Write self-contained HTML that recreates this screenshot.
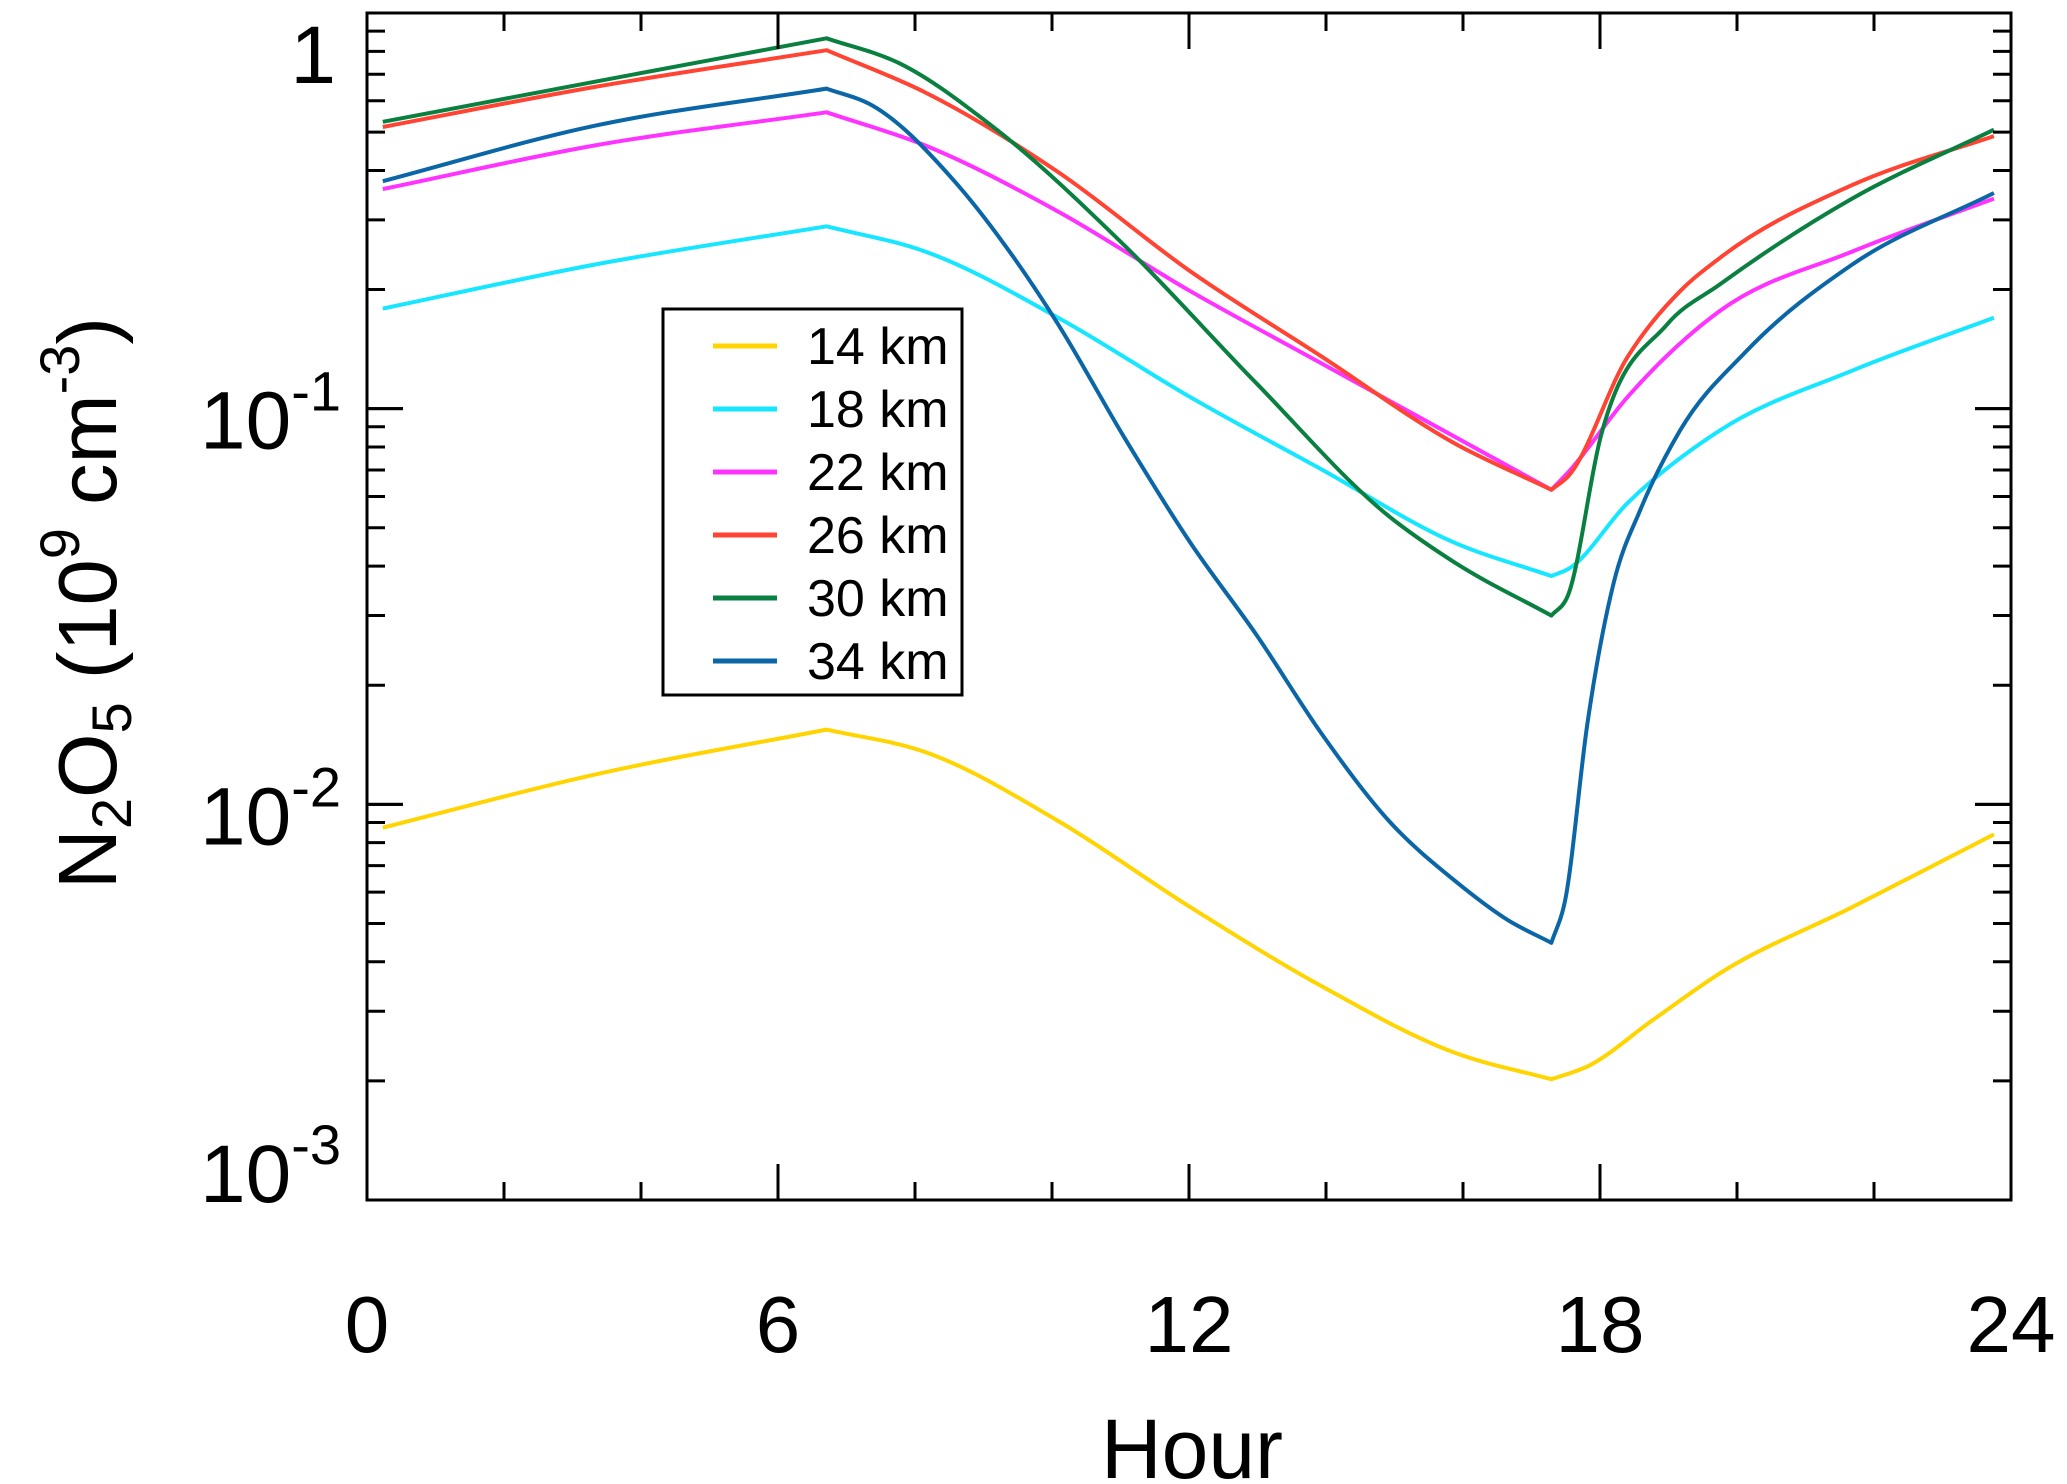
<!DOCTYPE html>
<html><head><meta charset="utf-8"><style>
html,body{margin:0;padding:0;background:#fff;}
svg{display:block;font-family:"Liberation Sans",sans-serif;}
</style></head><body>
<svg id="chart" width="2067" height="1484" viewBox="0 0 2067 1484" xmlns="http://www.w3.org/2000/svg">
<g id="plot"></g>
<g id="axes"></g>
<g id="legend"></g>
</svg>
<script>
const seriesNames = ["14 km","18 km","22 km","26 km","30 km","34 km"];
const seriesColors = ["#ffd400","#16e6ff","#ff33ff","#ff4433","#0a8040","#0a66a6"];
const xTickLabels = ["0","6","12","18","24"];
const yTickExps = [0,-1,-2,-3];
// hours and log10(N2O5) per series
const hYellow = [0.23,3.32,6.71,8.15,10.09,12.02,13.95,15.88,17.29,17.82,18.78,19.75,21.68,23.75];
const vYellow = [-2.059,-1.925,-1.811,-1.868,-2.042,-2.260,-2.461,-2.628,-2.695,-2.662,-2.544,-2.427,-2.260,-2.076];
const hCyan = [0.23,3.32,6.71,8.15,10.09,12.02,13.95,15.88,17.29,17.53,18.4,19.75,21.68,23.75];
const vCyan = [-0.747,-0.636,-0.539,-0.603,-0.770,-0.971,-1.155,-1.339,-1.423,-1.406,-1.239,-1.055,-0.904,-0.770];
const hMagenta = [0.23,3.32,6.71,8.15,10.09,12.02,13.95,15.88,17.29,17.53,18.4,19.75,21.68,23.75];
const vMagenta = [-0.445,-0.335,-0.251,-0.335,-0.502,-0.703,-0.887,-1.071,-1.205,-1.162,-0.971,-0.753,-0.603,-0.469];
const hRed = [0.23,3.32,6.71,8.15,10.09,12.02,13.95,15.88,17.29,17.53,18.4,19.17,19.75,21.68,23.75];
const vRed = [-0.288,-0.187,-0.094,-0.201,-0.402,-0.653,-0.870,-1.088,-1.205,-1.172,-0.870,-0.703,-0.619,-0.435,-0.311];
const hGreen = [0.23,3.32,6.71,7.77,9.12,11.05,12.99,14.92,15.88,17.29,17.53,18.01,18.98,19.75,21.68,23.75];
const vGreen = [-0.275,-0.174,-0.064,-0.127,-0.285,-0.586,-0.937,-1.272,-1.389,-1.523,-1.473,-1.071,-0.787,-0.686,-0.469,-0.295];
const hBlue = [0.23,3.32,6.71,7.38,8.54,9.31,10.09,11.05,12.02,12.99,13.95,14.92,15.88,16.66,17.29,17.49,17.82,18.2,18.59,19.17,20.14,21.68,23.75];
const vBlue = [-0.425,-0.285,-0.191,-0.234,-0.418,-0.586,-0.787,-1.071,-1.339,-1.573,-1.825,-2.042,-2.193,-2.293,-2.350,-2.243,-1.791,-1.440,-1.255,-1.055,-0.854,-0.636,-0.455];

const seriesH=[hYellow,hCyan,hMagenta,hRed,hGreen,hBlue];
const seriesV=[vYellow,vCyan,vMagenta,vRed,vGreen,vBlue];
const NS="http://www.w3.org/2000/svg";
const L=367,R=2011,T=13,B=1200;
function xS(h){return L+(h/24)*(R-L);}
function yS(e){return T+(0-e)/3*(B-T);}
function mk(tag,attrs,parent){const el=document.createElementNS(NS,tag);for(const k in attrs)el.setAttribute(k,attrs[k]);parent.appendChild(el);return el;}
function hermitePath(P){
  const n=P.length,sec=[];
  for(let i=0;i<n-1;i++)sec.push((P[i+1][1]-P[i][1])/(P[i+1][0]-P[i][0]));
  const mL=[],mR=[];
  for(let i=0;i<n;i++){
    if(i===0){mL[i]=mR[i]=sec[0];continue;}
    if(i===n-1){mL[i]=mR[i]=sec[n-2];continue;}
    const a=sec[i-1],b=sec[i];
    if(a*b<0){mL[i]=a;mR[i]=b;} // sharp extremum
    else{const dl=P[i][0]-P[i-1][0],dr=P[i+1][0]-P[i][0];const m=(a*dr+b*dl)/(dl+dr);mL[i]=mR[i]=m;}
  }
  let d='M'+P[0][0].toFixed(1)+','+P[0][1].toFixed(1);
  for(let i=0;i<n-1;i++){
    const dx=P[i+1][0]-P[i][0];
    const c1=[P[i][0]+dx/3,P[i][1]+mR[i]*dx/3];
    const c2=[P[i+1][0]-dx/3,P[i+1][1]-mL[i+1]*dx/3];
    d+=' C'+c1[0].toFixed(1)+','+c1[1].toFixed(1)+' '+c2[0].toFixed(1)+','+c2[1].toFixed(1)+' '+P[i+1][0].toFixed(1)+','+P[i+1][1].toFixed(1);
  }
  return d;
}
const plot=document.getElementById('plot'),axes=document.getElementById('axes'),legend=document.getElementById('legend');
for(let s=0;s<seriesNames.length;s++){
  const P=seriesH[s].map((h,i)=>[xS(h),yS(seriesV[s][i])]);
  const pl=mk('path',{d:hermitePath(P),fill:'none',stroke:seriesColors[s],'stroke-width':4,'stroke-linejoin':'round'},plot);
  
  
}
const frame=mk('rect',{x:L,y:T,width:R-L,height:B-T,fill:'none',stroke:'#000','stroke-width':3},axes);


for(let h=0;h<=24;h+=2){
  const maj=h%6===0,len=maj?36:18,x=xS(h);
  mk('line',{x1:x,y1:B,x2:x,y2:B-len,stroke:'#000','stroke-width':3},axes);
  mk('line',{x1:x,y1:T,x2:x,y2:T+len,stroke:'#000','stroke-width':3},axes);
}
xTickLabels.forEach((t,i)=>{
  const tx=mk('text',{x:xS(i*6),y:1352,'font-size':80,'text-anchor':'middle'},axes);
  tx.textContent=t;
  
  
});
for(let d=0;d>-3;d--){
  for(let m=1;m<=10;m++){
    const e=d-1+Math.log10(m);const y=yS(e);const maj=(m===1||m===10);const len=maj?36:18;
    mk('line',{x1:L,y1:y,x2:L+len,y2:y,stroke:'#000','stroke-width':3},axes);
    mk('line',{x1:R,y1:y,x2:R-len,y2:y,stroke:'#000','stroke-width':3},axes);
  }
}
yTickExps.forEach(e=>{
  const y=yS(e);
  const dy=(e===0?70:(e===-3?2:40));
  const tx=mk('text',{x:336,y:y+dy,'font-size':82,'text-anchor':'end'},axes);
  if(e===0){tx.textContent='1';}
  else{tx.textContent='10';const sp=mk('tspan',{dy:-38,'font-size':56},tx);sp.textContent=String(e);}
  tx.setAttribute('x', e===0?336:200);
  tx.setAttribute('text-anchor', e===0?'end':'start');
  
  
});
const xt=mk('text',{x:1192,y:1478,'font-size':84,'text-anchor':'middle'},axes);
xt.textContent='Hour';


const yt=mk('text',{x:0,y:0,'font-size':83,'text-anchor':'middle',transform:'translate(116,603) rotate(-90)'},axes);
yt.innerHTML='N<tspan font-size="56" dy="15">2</tspan><tspan dy="-15">O</tspan><tspan font-size="56" dy="15">5</tspan><tspan dy="-15"> (10</tspan><tspan font-size="56" dy="-37">9</tspan><tspan dy="37"> cm</tspan><tspan font-size="56" dy="-37">-3</tspan><tspan dy="37">)</tspan>';


const lb=mk('rect',{x:663,y:309,width:299,height:386,fill:'#fff',stroke:'#000','stroke-width':3},legend);


seriesNames.forEach((n,i)=>{
  const y=346+i*63;
  const g=mk('g',{},legend);
  
  
  mk('line',{x1:713,y1:y,x2:777,y2:y,stroke:seriesColors[i],'stroke-width':5},g);
  const t=mk('text',{x:807,y:y+18,'font-size':52},g);t.textContent=n;
});
</script>
</body></html>
